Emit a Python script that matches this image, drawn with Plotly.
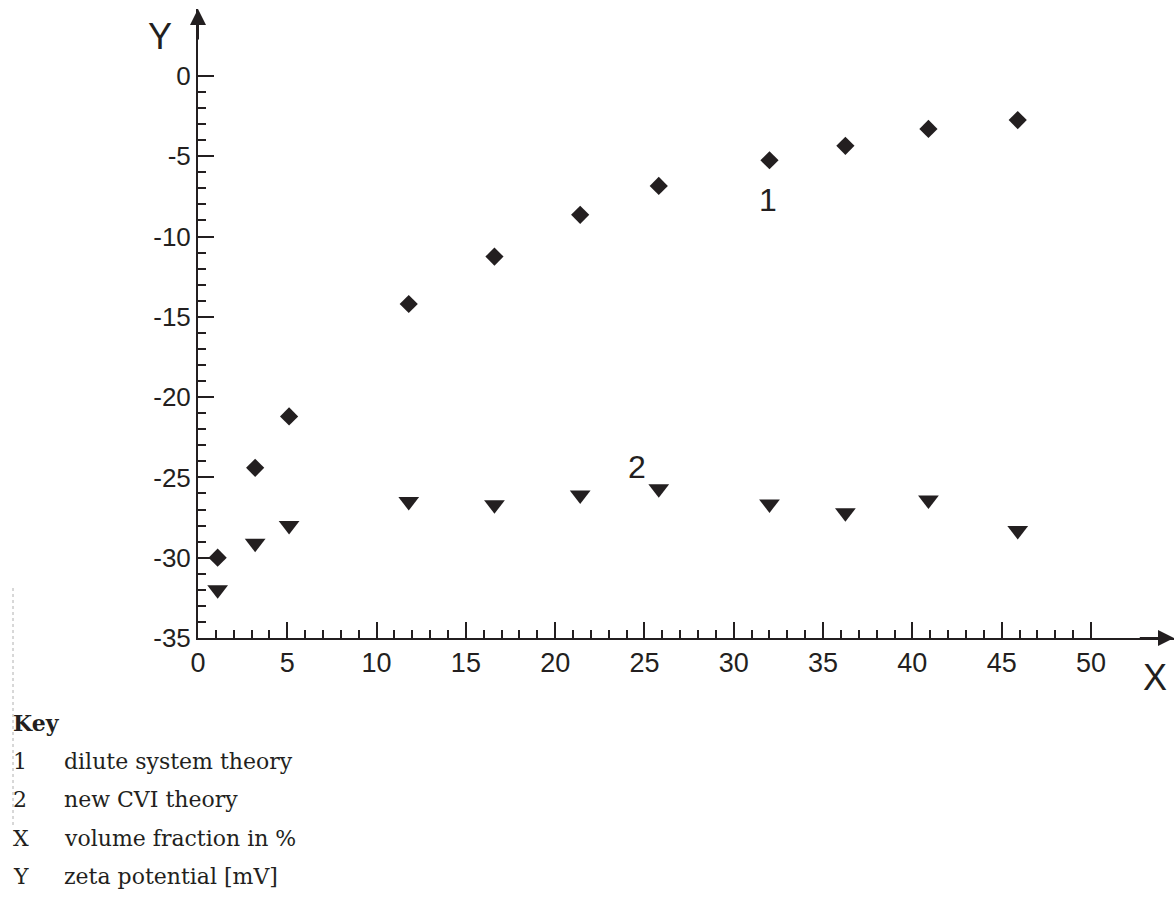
import plotly.graph_objects as go

# ---- data ----
vol_fraction = [1.1, 3.2, 5.1, 11.8, 16.6, 21.4, 25.8, 32.0, 36.25, 40.9, 45.9]
zeta_dilute = [-30.0, -24.4, -21.2, -14.2, -11.25, -8.65, -6.85, -5.25, -4.35, -3.3, -2.75]
zeta_cvi = [-32.0, -29.1, -28.0, -26.5, -26.7, -26.1, -25.7, -26.65, -27.2, -26.4, -28.3]

x_tick_vals = [0, 5, 10, 15, 20, 25, 30, 35, 40, 45, 50]
x_tick_labels = ["0", "5", "10", "15", "20", "25", "30", "35", "40", "45", "50"]
y_tick_vals = [0, -5, -10, -15, -20, -25, -30, -35]
y_tick_labels = ["0", "-5", "-10", "-15", "-20", "-25", "-30", "-35"]
x_minor_vals = [v for v in range(1, 50) if v % 5]
y_minor_vals = [v for v in range(-34, 0) if v % 5]

series_labels = ["1", "2"]
key_entries = [("1", "dilute system theory"), ("2", "new CVI theory"),
               ("X", "volume fraction in %"), ("Y", "zeta potential [mV]")]

# ---- layout geometry (pixels) ----
W_FIG, H_FIG = 1174, 897
L, T, R, B = 198, 9, 0, 259
PW, PH = W_FIG - L - R, H_FIG - T - B
X_RANGE = [0, 54.65]
Y_RANGE = [-35, 4.17]

def px(x):
    return (x - L) / PW

def py(y):
    return (T + PH - y) / PH

INK = "#231f20"
SANS = "Liberation Sans, Arial, sans-serif"

fig = go.Figure()
fig.add_trace(go.Scatter(x=vol_fraction, y=zeta_dilute, mode="markers",
                         marker=dict(symbol="diamond", size=14, color=INK),
                         name="dilute system theory", cliponaxis=False))
fig.add_trace(go.Scatter(x=vol_fraction, y=zeta_cvi, mode="markers",
                         marker=dict(symbol="triangle-down", size=18, color=INK),
                         name="new CVI theory", cliponaxis=False))

axis_common = dict(showgrid=False, zeroline=False, showline=True, linecolor=INK,
                   linewidth=2, ticks="inside", ticklen=16, tickwidth=1.5,
                   tickcolor=INK, tickmode="array")

fig.update_xaxes(range=X_RANGE, tickvals=x_tick_vals, ticktext=x_tick_labels,
                 tickfont=dict(family=SANS, size=27, color=INK),
                 minor=dict(tickvals=x_minor_vals, ticks="inside", ticklen=8,
                            tickwidth=1.5, tickcolor=INK, showgrid=False),
                 **axis_common)
fig.update_yaxes(range=Y_RANGE, tickvals=y_tick_vals, ticktext=y_tick_labels,
                 tickfont=dict(family=SANS, size=26, color=INK),
                 minor=dict(tickvals=y_minor_vals, ticks="inside", ticklen=8,
                            tickwidth=1.5, tickcolor=INK, showgrid=False),
                 **axis_common)

ann = []
# arrow heads on axes
ann.append(dict(x=0, y=Y_RANGE[1], ax=0, ay=Y_RANGE[1] - 2, xref="x", yref="y",
                axref="x", ayref="y", showarrow=True, arrowhead=2, arrowsize=1.6,
                arrowwidth=2, arrowcolor=INK, text="", standoff=0))
ann.append(dict(x=X_RANGE[1], y=-35, ax=X_RANGE[1] - 2, ay=-35, xref="x", yref="y",
                axref="x", ayref="y", showarrow=True, arrowhead=2, arrowsize=1.6,
                arrowwidth=2, arrowcolor=INK, text="", standoff=0))

def label(xp, yp, text, size, family=SANS, xanchor="center"):
    return dict(x=px(xp), y=py(yp), xref="paper", yref="paper", text=text,
                xanchor=xanchor, yanchor="middle", showarrow=False,
                font=dict(family=family, size=size, color=INK))

# axis letters
ann.append(label(160, 37, "Y", 36))
ann.append(label(1155, 677, "X", 36))
# curve labels
ann.append(label(768, 200, series_labels[0], 32))
ann.append(label(637, 467, series_labels[1], 32))
# key
KEY_FONT = "DejaVu Serif, Liberation Serif, serif"
ann.append(label(11, 723, "<b>Key</b>", 22, KEY_FONT, "left"))
for i, (code, desc) in enumerate(key_entries):
    yy = 761 + i * 38.6
    ann.append(label(11, yy, code, 22, KEY_FONT, "left"))
    ann.append(label(62, yy, desc, 22, KEY_FONT, "left"))

fig.update_layout(
    width=W_FIG, height=H_FIG,
    margin=dict(l=L, r=R, t=T, b=B),
    paper_bgcolor="white", plot_bgcolor="white",
    showlegend=False,
    annotations=ann,
    shapes=[dict(type="line", xref="paper", yref="paper",
                 x0=px(13), x1=px(13), y0=py(588), y1=py(826),
                 line=dict(color="#b0b0b0", width=1, dash="dot"))],
)

page_fix = ("document.documentElement.style.margin='0';"
            "document.documentElement.style.overflow='hidden';"
            "document.body.style.margin='0';document.body.style.padding='0';"
            "document.body.style.overflow='hidden';")

fig.write_html("out.html", post_script=page_fix, config={"displayModeBar": False})
